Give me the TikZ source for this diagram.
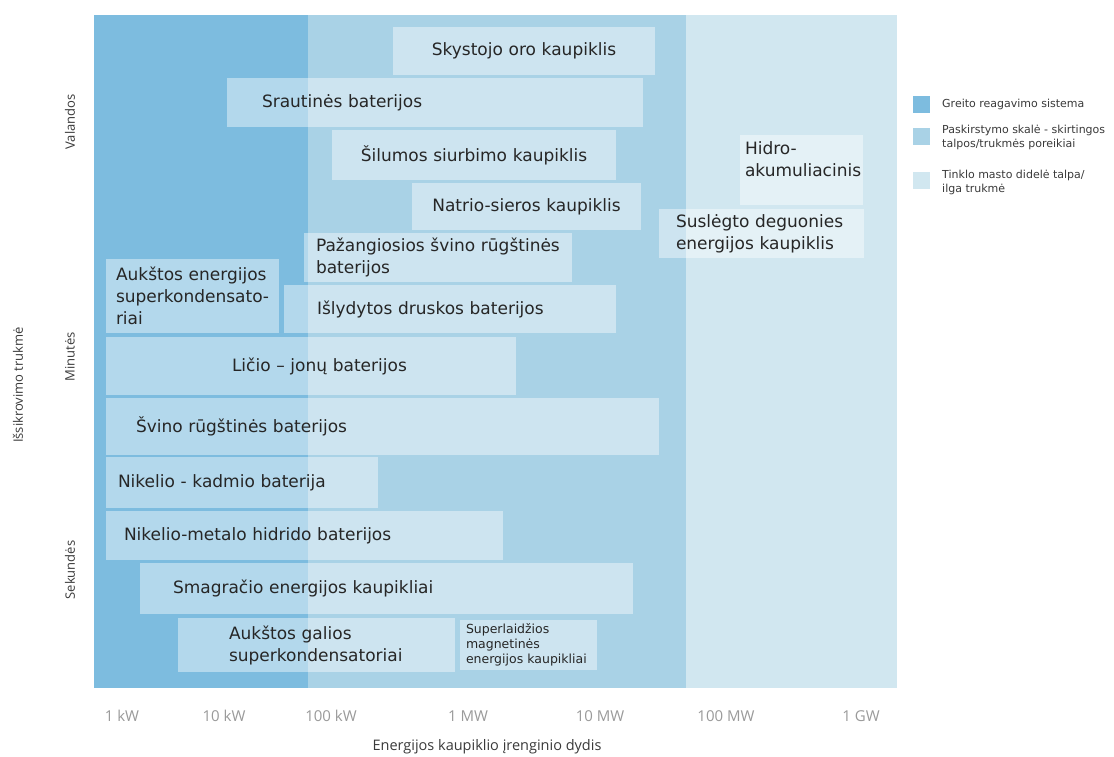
\documentclass[tikz,border=0pt]{standalone}
\usepackage{fontspec}
\setmainfont{DejaVu Sans}
\newfontfamily\axisfont{Open Sans}
\definecolor{cdark}{HTML}{7DBCDF}
\definecolor{cmed}{HTML}{A9D2E6}
\definecolor{clight}{HTML}{D1E7F0}
\definecolor{ctext}{HTML}{262626}
\definecolor{ctick}{HTML}{9A9A9A}
\definecolor{clabel}{HTML}{3A3A3A}
\newcommand\bx[8]{%
  \pgfmathsetmacro\bw{#4-#2}%
  \pgfmathsetmacro\bh{#5-#3}%
  \pgfmathsetmacro\btw{#4-#2-2*#6}%
  \node[box, minimum width=\bw pt, minimum height=\bh pt, text width=\btw pt,
        inner xsep=#6 pt, align=#7] (#1) at (#2,#3) {#8};}
\begin{document}
\begin{tikzpicture}[x=1pt,y=-1pt,
  box/.style={fill=white, fill opacity=0.42, text opacity=1, text=ctext,
    draw=none, inner ysep=0pt, outer sep=0pt, anchor=north west,
    font=\fontsize{17}{22}\selectfont},
  smallbox/.style={box, font=\fontsize{12.5}{15}\selectfont},
  legsq/.style={minimum size=17pt, inner sep=0pt, outer sep=0pt, anchor=north west},
  legtext/.style={anchor=west, align=left, text=clabel, inner sep=0pt,
    font=\fontsize{11}{14}\selectfont},
  tick/.style={text=ctick, font=\axisfont\fontsize{15}{18}\selectfont},
  axlabel/.style={text=clabel, font=\axisfont\fontsize{13}{16}\selectfont}]
\useasboundingbox (0,0) rectangle (1114,757);
\fill[white] (0,0) rectangle (1114,757);
% background zones
\fill[cdark] (94,15) rectangle (308,688);
\fill[cmed] (308,15) rectangle (686,688);
\fill[clight] (686,15) rectangle (897,688);
% technology boxes
\bx{sky}{393}{27}{655}{75}{10}{center}{Skystojo oro kaupiklis}
\bx{sra}{227}{78}{643}{127}{35}{left}{Srautinės baterijos}
\bx{sil}{332}{130}{616}{180}{10}{center}{Šilumos siurbimo kaupiklis}
\bx{nat}{412}{183}{641}{230}{10}{center}{Natrio-sieros kaupiklis}
\bx{paz}{304}{233}{572}{282}{12}{left}{\mbox{Pažangiosios švino rūgštinės}\\baterijos}
\bx{aen}{106}{259}{279}{333}{10}{left}{\mbox{Aukštos energijos}\\\mbox{superkondensato-}\\riai}
\bx{isl}{284}{285}{616}{333}{33}{left}{Išlydytos druskos baterijos}
\bx{lic}{106}{337}{516}{395}{126}{left}{\mbox{Ličio – jonų baterijos}}
\bx{svi}{106}{398}{659}{455}{30}{left}{Švino rūgštinės baterijos}
\bx{nik}{106}{457}{378}{508}{12}{left}{Nikelio - kadmio baterija}
\bx{nmh}{106}{511}{503}{560}{18}{left}{Nikelio-metalo hidrido baterijos}
\bx{sma}{140}{563}{633}{614}{33}{left}{Smagračio energijos kaupikliai}
\bx{ags}{178}{618}{455}{672}{51}{left}{\mbox{Aukštos galios}\\\mbox{superkondensatoriai}}
\node[smallbox, minimum width=137pt, minimum height=50pt, text width=125pt,
      inner xsep=6pt, align=left] (smes) at (460,620)
      {Superlaidžios\\magnetinės\\\mbox{energijos kaupikliai}};
\bx{hid}{740}{135}{863}{205}{5}{left}{Hidro-\\akumuliacinis\\\mbox{}}
\bx{sus}{659}{209}{864}{258}{17}{left}{\mbox{Suslėgto deguonies}\\\mbox{energijos kaupiklis}}
% legend
\node[legsq, fill=cdark] (l1) at (913,96) {};
\node[legsq, fill=cmed] (l2) at (913,128) {};
\node[legsq, fill=clight] (l3) at (913,172) {};
\node[legtext] (t1) at (942,104.5) {Greito reagavimo sistema};
\node[legtext] (t2) at (942,137) {Paskirstymo skalė - skirtingos\\talpos/trukmės poreikiai};
\node[legtext] (t3) at (942,182) {Tinklo masto didelė talpa/\\ilga trukmė};
% x axis ticks
\node[tick] (x1) at (122,716) {1 kW};
\node[tick] (x2) at (224,716) {10 kW};
\node[tick] (x3) at (331,716) {100 kW};
\node[tick] (x4) at (468,716) {1 MW};
\node[tick] (x5) at (600,716) {10 MW};
\node[tick] (x6) at (726,716) {100 MW};
\node[tick] (x7) at (861,716) {1 GW};
\node[axlabel, font=\axisfont\fontsize{14.5}{17}\selectfont] (xl) at (487,747) {Energijos kaupiklio įrenginio dydis};
% y axis labels
\node[axlabel, rotate=90] (y1) at (70,122) {Valandos};
\node[axlabel, rotate=90] (y2) at (70,357) {Minutės};
\node[axlabel, rotate=90] (y3) at (70,570) {Sekundės};
\node[axlabel, rotate=90] (yl) at (18,385) {Išsikrovimo trukmė};
\end{tikzpicture}
\end{document}
